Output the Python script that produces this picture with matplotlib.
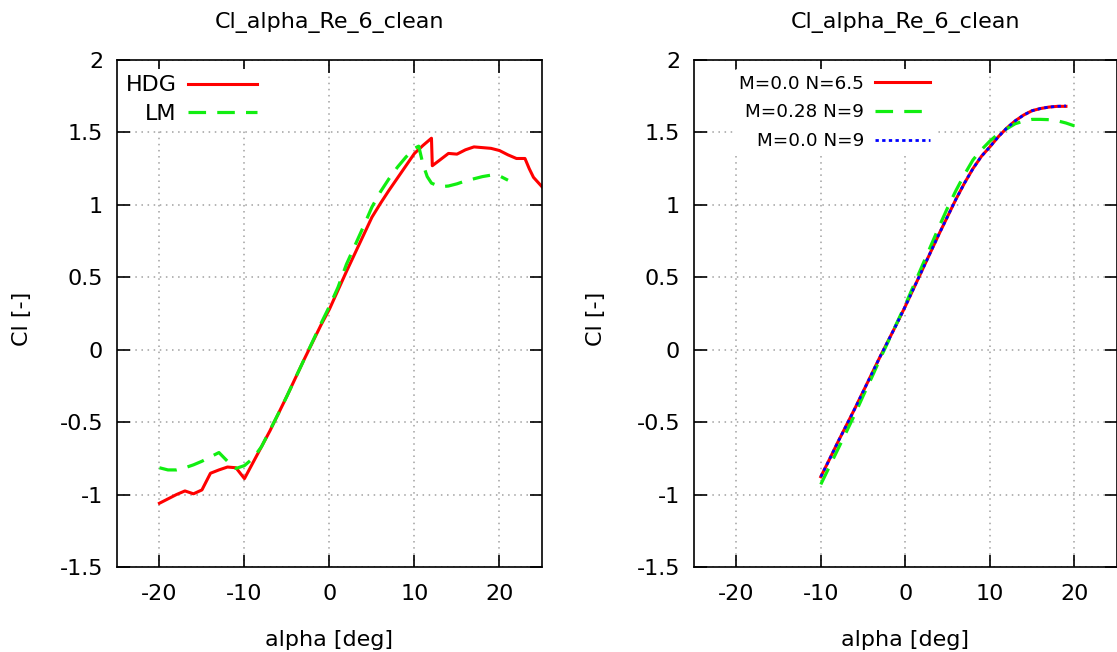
import matplotlib
matplotlib.use("Agg")
import matplotlib.pyplot as plt

plt.rcParams["font.family"] = ["DejaVu Sans"]

TITLE = "Cl_alpha_Re_6_clean"

# left panel: HDG vs LM
hdg_alpha = [-20, -19, -18, -17, -16, -15, -14, -13, -12, -11, -10, -9, -8, -7, -6, -5, -4, -3, -2, -1,
             0, 1, 2, 3, 4, 5, 6, 7, 8, 9, 10, 11, 12, 12.1, 13, 14, 15, 16, 17, 18, 19, 20, 21, 22, 23,
             23.5, 24, 25]
hdg_cl = [-1.06, -1.03, -1.0, -0.975, -0.995, -0.968, -0.853, -0.83, -0.81, -0.815, -0.89, -0.78, -0.67,
          -0.56, -0.44, -0.32, -0.195, -0.07, 0.05, 0.17,
          0.28, 0.41, 0.54, 0.665, 0.79, 0.915, 1.01, 1.10, 1.185, 1.27, 1.355, 1.41, 1.46, 1.27, 1.31,
          1.355, 1.35, 1.38, 1.40, 1.395, 1.39, 1.375, 1.345, 1.32, 1.32,
          1.25, 1.19, 1.125]

lm_alpha = [-20, -19, -18, -17, -16, -15, -14, -13, -12, -11.6, -11, -10, -9, -8, -7, -6, -5, -4, -3, -2,
            -1, 0, 1, 2, 3, 4, 5, 6, 7, 8, 9, 10, 10.5, 11, 11.5, 12, 13, 14, 15, 16, 17, 18, 19, 20, 21]
lm_cl = [-0.815, -0.83, -0.83, -0.815, -0.795, -0.77, -0.74, -0.71, -0.77, -0.81, -0.82, -0.80, -0.75,
         -0.67, -0.555, -0.44, -0.32, -0.195, -0.07, 0.055,
         0.18, 0.30, 0.43, 0.59, 0.72, 0.85, 0.985, 1.09, 1.18, 1.26, 1.33, 1.39, 1.405, 1.28, 1.195,
         1.15, 1.125, 1.13, 1.145, 1.165, 1.18, 1.195, 1.205, 1.20, 1.17]

# right panel: Mach / N-factor comparison
m0_alpha = list(range(-10, 20))
m0_n65_cl = [-0.877, -0.76, -0.64, -0.525, -0.41, -0.29, -0.17, -0.05, 0.065, 0.18,
             0.30, 0.425, 0.55, 0.675, 0.80, 0.92, 1.04, 1.15, 1.25, 1.335,
             1.40, 1.47, 1.53, 1.58, 1.62, 1.65, 1.665, 1.675, 1.68, 1.68]
m0_n9_cl = [-0.877, -0.76, -0.64, -0.525, -0.41, -0.29, -0.17, -0.05, 0.065, 0.18,
            0.30, 0.425, 0.55, 0.675, 0.80, 0.92, 1.04, 1.15, 1.25, 1.335,
            1.40, 1.47, 1.53, 1.58, 1.62, 1.65, 1.665, 1.675, 1.68, 1.683]

m028_alpha = list(range(-10, 21))
m028_n9_cl = [-0.93, -0.81, -0.69, -0.57, -0.45, -0.32, -0.195, -0.065, 0.06, 0.185,
              0.31, 0.445, 0.58, 0.715, 0.85, 0.98, 1.10, 1.21, 1.31, 1.38,
              1.44, 1.49, 1.525, 1.56, 1.578, 1.59, 1.59, 1.588, 1.58, 1.565, 1.545]

RED = "#ff0000"
GREEN = "#11ee11"
BLUE = "#0000ff"

fig = plt.figure(figsize=(11.17, 6.52), dpi=100)
ax1 = fig.add_axes([0.1047, 0.1304, 0.3805, 0.7776])
ax2 = fig.add_axes([0.6213, 0.1304, 0.3784, 0.7776])


def style_axes(ax):
    ax.set_xlim(-25, 25)
    ax.set_ylim(-1.5, 2)
    ax.set_xticks([-20, -10, 0, 10, 20])
    ax.set_yticks([-1.5, -1, -0.5, 0, 0.5, 1, 1.5, 2])
    ax.set_yticklabels(["-1.5", "-1", "-0.5", "0", "0.5", "1", "1.5", "2"])
    ax.set_xticklabels(["-20", "-10", "0", "10", "20"])
    ax.tick_params(direction="in", length=9, width=1.2, top=True, right=True, labelsize=16)
    ax.tick_params(axis="y", pad=10)
    ax.tick_params(axis="x", pad=12)
    ax.grid(True, color="#a0a0a0", linestyle=(0, (1, 3)), linewidth=1.1)
    for s in ax.spines.values():
        s.set_linewidth(1.2)
    ax.set_title(TITLE, fontsize=16, pad=23)
    ax.set_xlabel("alpha [deg]", fontsize=16, labelpad=19)
    ax.set_ylabel("Cl [-]", fontsize=16)


style_axes(ax1)
ax1.plot(hdg_alpha, hdg_cl, color=RED, lw=2.2, label="HDG")
ax1.plot(lm_alpha, lm_cl, color=GREEN, lw=2.3, dashes=(5.5, 3.5), label="LM")
ax1.yaxis.set_label_coords(-0.2, 0.49)
leg1 = ax1.legend(loc="upper left", markerfirst=False, fontsize=16, frameon=True, framealpha=1,
                  edgecolor="none", handlelength=3.1, handletextpad=0.5, labelspacing=0.39,
                  borderaxespad=0.1, borderpad=0.3, bbox_to_anchor=(0.0, 0.987))
leg1.get_frame().set_linewidth(0)

style_axes(ax2)
ax2.plot(m0_alpha, m0_n65_cl, color=RED, lw=2.2, label="M=0.0 N=6.5")
ax2.plot(m028_alpha, m028_n9_cl, color=GREEN, lw=2.3, dashes=(5.5, 3.5), label="M=0.28 N=9")
ax2.plot(m0_alpha, m0_n9_cl, color=BLUE, lw=2.0, dashes=(1.2, 1.2), label="M=0.0 N=9")
ax2.yaxis.set_label_coords(-0.209, 0.49)
leg2 = ax2.legend(loc="upper left", markerfirst=False, fontsize=13.2, frameon=True, framealpha=1,
                  edgecolor="none", handlelength=3.0, handletextpad=0.6, labelspacing=0.58,
                  borderaxespad=0.4, borderpad=0.3, bbox_to_anchor=(0.077, 0.996))
leg2.get_frame().set_linewidth(0)

fig.savefig("out.png", dpi=100)
